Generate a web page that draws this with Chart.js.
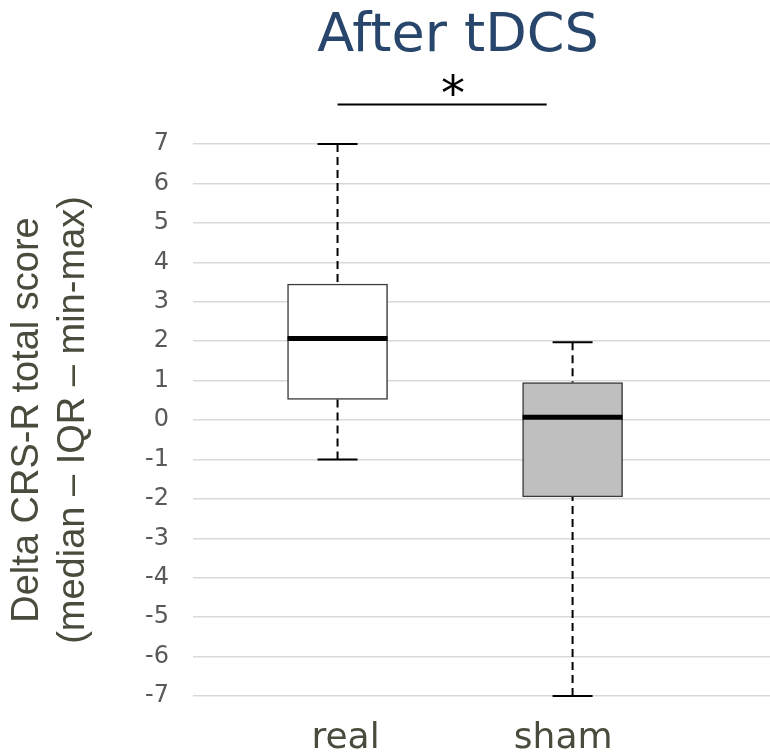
<!DOCTYPE html>
<html>
<head>
<meta charset="utf-8">
<title>After tDCS</title>
<script src="https://cdn.jsdelivr.net/npm/chart.js@4.4.0/dist/chart.umd.min.js"></script>
<style>
  html, body { margin: 0; padding: 0; background: #ffffff; }
  #wrap { width: 770px; height: 752px; }
</style>
</head>
<body>
<div id="wrap"><canvas id="chart" width="770" height="752"></canvas></div>
<script>
// Group names and five-number summaries of the change in CRS-R total score
const categories = ['real', 'sham'];
const mins    = [-1, -7];
const q1s     = [0.52, -1.95];
const medians = [2.07, 0.07];
const q3s     = [3.45, 0.95];
const maxs    = [7, 1.97];

// Value axis ticks, and where the group names sit on the group axis
const yTicks = [-7, -6, -5, -4, -3, -2, -1, 0, 1, 2, 3, 4, 5, 6, 7];
const groupLabelAt = [1.034, 1.96];

// Texts
const chartTitle = 'After tDCS';
const yAxisTitle = ['Delta CRS-R total score', '(median \u2013 IQR \u2013 min-max)'];
const sigMark = '*';
const sigSpan = [1, 1.89];   // bracket ends, on the group axis
const sigLevel = 8;          // bracket height, in score units

const boxFill = ['#ffffff', '#bfbfbf'];

// Whiskers, caps and median bars drawn on top of the IQR boxes
const boxWhiskers = {
  id: 'boxWhiskers',
  afterDatasetsDraw(chart) {
    const { ctx, scales: { x, y } } = chart;
    const meta = chart.getDatasetMeta(0);
    ctx.save();
    categories.forEach((name, i) => {
      const bar = meta.data[i];
      const cx = x.getPixelForValue(i + 1);
      const half = bar.width / 2;
      const cap = bar.width * 0.2;

      // dashed whiskers
      ctx.strokeStyle = '#000000';
      ctx.lineWidth = 2;
      ctx.setLineDash([8, 5]);
      ctx.beginPath();
      ctx.moveTo(cx, y.getPixelForValue(maxs[i]));
      ctx.lineTo(cx, y.getPixelForValue(q3s[i]));
      ctx.moveTo(cx, y.getPixelForValue(mins[i]));
      ctx.lineTo(cx, y.getPixelForValue(q1s[i]));
      ctx.stroke();
      ctx.setLineDash([]);

      // end caps
      ctx.lineWidth = 2;
      ctx.beginPath();
      const yMax = y.getPixelForValue(maxs[i]);
      const yMin = y.getPixelForValue(mins[i]);
      ctx.moveTo(cx - cap, yMax); ctx.lineTo(cx + cap, yMax);
      ctx.moveTo(cx - cap, yMin); ctx.lineTo(cx + cap, yMin);
      ctx.stroke();

      // median
      ctx.lineWidth = 5;
      ctx.beginPath();
      const yMed = y.getPixelForValue(medians[i]);
      ctx.moveTo(cx - half, yMed); ctx.lineTo(cx + half, yMed);
      ctx.stroke();
    });
    ctx.restore();
  }
};

// Title plus significance bracket above the plot
const headings = {
  id: 'headings',
  afterDraw(chart) {
    const { ctx, scales: { x, y } } = chart;
    const mid = x.getPixelForValue((1 + categories.length) / 2);
    ctx.save();
    ctx.fillStyle = '#28466b';
    ctx.font = '54px "DejaVu Sans"';
    ctx.textAlign = 'center';
    ctx.textBaseline = 'alphabetic';
    ctx.fillText(chartTitle, mid + 3, 51);

    const yb = y.getPixelForValue(sigLevel);
    ctx.strokeStyle = '#000000';
    ctx.lineWidth = 2;
    ctx.beginPath();
    ctx.moveTo(x.getPixelForValue(sigSpan[0]), yb);
    ctx.lineTo(x.getPixelForValue(sigSpan[1]), yb);
    ctx.stroke();

    ctx.fillStyle = '#000000';
    ctx.font = '48px "DejaVu Sans"';
    ctx.fillText(sigMark, mid - 2, yb + 5);
    ctx.restore();
  }
};

new Chart(document.getElementById('chart'), {
  type: 'bar',
  data: {
    datasets: [{
      data: categories.map((c, i) => ({ x: i + 1, y: [q1s[i], q3s[i]] })),
      backgroundColor: boxFill,
      borderColor: '#3a3a3a',
      borderWidth: 1.5,
      borderSkipped: false,
      barThickness: 100
    }]
  },
  options: {
    responsive: false,
    animation: false,
    devicePixelRatio: 1,
    layout: { padding: { top: 144, right: 0, bottom: 0, left: 0 } },
    plugins: {
      legend: { display: false },
      tooltip: { enabled: false },
      title: { display: false }
    },
    scales: {
      x: {
        type: 'linear',
        min: 0.385,
        max: 2.84,
        offset: false,
        grid: { display: false, drawTicks: false },
        border: { display: false },
        afterBuildTicks: (scale) => { scale.ticks = groupLabelAt.map(v => ({ value: v })); },
        afterFit: (scale) => { scale.height = 56; },
        ticks: {
          padding: 25,
          color: '#4b4b3d',
          font: { family: '"DejaVu Sans"', size: 36, lineHeight: 1 },
          callback: (v, i) => categories[i] ?? ''
        }
      },
      y: {
        min: -7,
        max: 7,
        afterBuildTicks: (scale) => { scale.ticks = yTicks.map(v => ({ value: v })); },
        afterFit: (scale) => { scale.width = 193; },
        grid: { color: '#d9d9d9', lineWidth: 1.5, drawTicks: false },
        border: { display: false },
        ticks: {
          padding: 24,
          color: '#595959',
          font: { family: '"DejaVu Sans"', size: 24 }
        },
        title: {
          display: true,
          text: yAxisTitle,
          color: '#4b4b3d',
          font: { family: '"Liberation Sans"', size: 38, lineHeight: 1.2 },
          padding: { top: 5, bottom: 24 }
        }
      }
    }
  },
  plugins: [boxWhiskers, headings]
});
</script>
</body>
</html>
